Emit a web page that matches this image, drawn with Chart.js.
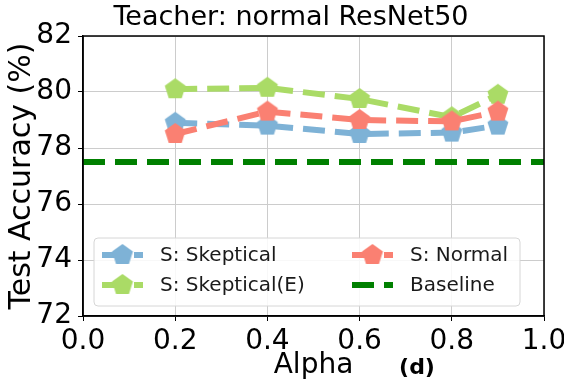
<!DOCTYPE html>
<html>
<head>
<meta charset="utf-8">
<script src="https://cdn.jsdelivr.net/npm/chart.js@4.4.0/dist/chart.umd.min.js"></script>
<style>
html, body { margin: 0; padding: 0; background: #fff; overflow: hidden; width: 564px; height: 385px; }
#wrap { position: relative; width: 590px; height: 385px; }
</style>
</head>
<body>
<div id="wrap"><canvas id="chart"></canvas></div>
<script>
// data
const alphas = [0.2, 0.4, 0.6, 0.8, 0.9];
const skeptical = [78.9, 78.8, 78.5, 78.55, 78.8];
const skepticalE = [80.1, 80.15, 79.75, 79.1, 79.9];
const normal = [78.5, 79.3, 79.0, 78.95, 79.3];
const baselineX = [0, 1];
const baselineY = [77.5, 77.5];
const xTicks = [0, 0.2, 0.4, 0.6, 0.8, 1.0];
const yTicks = [72, 74, 76, 78, 80, 82];
const chartTitle = 'Teacher: normal ResNet50';

const FONT = 'DejaVu Sans';
const BLUE = '#7eb2d6';
const GREEN = '#aadb66';
const RED = '#fa8072';
const DARKGREEN = '#008000';
const DASH = [22, 10];

function pentagon(color, r) {
    const c = document.createElement('canvas');
    const s = Math.ceil(2 * r + 2);
    c.width = s; c.height = s;
    const g = c.getContext('2d');
    g.beginPath();
    for (let i = 0; i < 5; i++) {
        const a = -Math.PI / 2 + i * 2 * Math.PI / 5;
        g.lineTo(s / 2 + r * Math.cos(a), s / 2 + r * Math.sin(a));
    }
    g.closePath();
    g.fillStyle = color;
    g.fill();
    return c;
}

const markers = {
    blue: pentagon(BLUE, 11),
    green: pentagon(GREEN, 11),
    red: pentagon(RED, 11)
};

function series(label, ys, color, marker, order) {
    return {
        label: label,
        data: alphas.map((x, i) => ({ x: x, y: ys[i] })),
        borderColor: color,
        backgroundColor: color,
        borderWidth: 6,
        borderDash: DASH,
        pointStyle: marker,
        pointRadius: 11,
        pointHoverRadius: 11,
        fill: false,
        order: order
    };
}

// legend drawn inside the plot area, two columns like the figure
const legendItems = [
    { label: 'S: Skeptical', color: BLUE, marker: markers.blue, col: 0, row: 0 },
    { label: 'S: Skeptical(E)', color: GREEN, marker: markers.green, col: 0, row: 1 },
    { label: 'S: Normal', color: RED, marker: markers.red, col: 1, row: 0 },
    { label: 'Baseline', color: DARKGREEN, marker: null, col: 1, row: 1 }
];

const extras = {
    id: 'extras',
    afterDatasetsDraw(chart) {
        const ctx = chart.ctx;
        const a = chart.chartArea;
        const bx = a.left + 11, bw = 426, bh = 68;
        const by = a.bottom - 10 - bh;
        ctx.save();
        ctx.fillStyle = 'rgba(255,255,255,0.85)';
        ctx.strokeStyle = '#d6d6d6';
        ctx.lineWidth = 1;
        ctx.beginPath();
        ctx.roundRect(bx, by, bw, bh, 4);
        ctx.fill();
        ctx.stroke();
        legendItems.forEach(it => {
            const hx = bx + 8 + it.col * 250;
            const hy = by + 17 + it.row * 30;
            ctx.strokeStyle = it.color;
            ctx.lineWidth = 6;
            ctx.setLineDash(DASH);
            ctx.beginPath();
            ctx.moveTo(hx, hy);
            ctx.lineTo(hx + 41, hy);
            ctx.stroke();
            ctx.setLineDash([]);
            if (it.marker) {
                ctx.drawImage(it.marker, hx + 20.5 - it.marker.width / 2, hy - it.marker.height / 2);
            }
            ctx.fillStyle = '#1a1a1a';
            ctx.font = '20px ' + FONT;
            ctx.textAlign = 'left';
            ctx.textBaseline = 'middle';
            ctx.fillText(it.label, hx + 58, hy + 1);
        });
        ctx.restore();
    },
    afterDraw(chart) {
        const ctx = chart.ctx;
        const a = chart.chartArea;
        ctx.save();
        ctx.strokeStyle = '#000';
        ctx.lineWidth = 1.5;
        ctx.strokeRect(a.left, a.top, a.right - a.left, a.bottom - a.top);
        ctx.fillStyle = '#000';
        ctx.textAlign = 'center';
        ctx.textBaseline = 'middle';
        ctx.font = '27px ' + FONT;
        ctx.fillText(chartTitle, 291, 18);
        ctx.font = 'bold 22px ' + FONT;
        ctx.fillText('(d)', 417, 368);
        ctx.restore();
    }
};

new Chart(document.getElementById('chart'), {
    type: 'line',
    data: {
        datasets: [
            series('S: Skeptical', skeptical, BLUE, markers.blue, 3),
            series('S: Skeptical(E)', skepticalE, GREEN, markers.green, 2),
            series('S: Normal', normal, RED, markers.red, 1),
            {
                label: 'Baseline',
                data: baselineX.map((x, i) => ({ x: x, y: baselineY[i] })),
                borderColor: DARKGREEN,
                backgroundColor: DARKGREEN,
                borderWidth: 6,
                borderDash: DASH,
                pointRadius: 0,
                fill: false,
                order: 4
            }
        ]
    },
    options: {
        responsive: true,
        maintainAspectRatio: false,
        animation: false,
        layout: { padding: { left: 0, right: 46, top: 36, bottom: 0 } },
        plugins: {
            legend: { display: false },
            tooltip: { enabled: false },
            title: { display: false }
        },
        scales: {
            x: {
                type: 'linear',
                min: 0,
                max: 1,
                afterBuildTicks: s => { s.ticks = xTicks.map(v => ({ value: v })); },
                afterFit: s => { s.height = 69; },
                ticks: {
                    color: '#000',
                    font: { family: FONT, size: 28 },
                    padding: 4,
                    maxRotation: 0,
                    autoSkip: false,
                    callback: v => Number(v).toFixed(1)
                },
                grid: { color: '#cccccc', lineWidth: 1, tickColor: '#000', tickLength: 5 },
                border: { color: '#000', width: 1.5 },
                title: {
                    display: true,
                    text: 'Alpha',
                    color: '#000',
                    font: { family: FONT, size: 28, lineHeight: 1.1 },
                    padding: { top: 0, bottom: 4 }
                }
            },
            y: {
                min: 72,
                max: 82,
                afterBuildTicks: s => { s.ticks = yTicks.map(v => ({ value: v })); },
                afterFit: s => { s.width = 83; },
                ticks: {
                    color: '#000',
                    font: { family: FONT, size: 28 },
                    padding: 6
                },
                grid: { color: '#cccccc', lineWidth: 1, tickColor: '#000', tickLength: 5 },
                border: { color: '#000', width: 1.5 },
                title: {
                    display: true,
                    text: 'Test Accuracy (%)',
                    color: '#000',
                    font: { family: FONT, size: 30, lineHeight: 1.1 },
                    padding: { top: 6, bottom: 0 }
                }
            }
        }
    },
    plugins: [extras]
});
</script>
</body>
</html>
